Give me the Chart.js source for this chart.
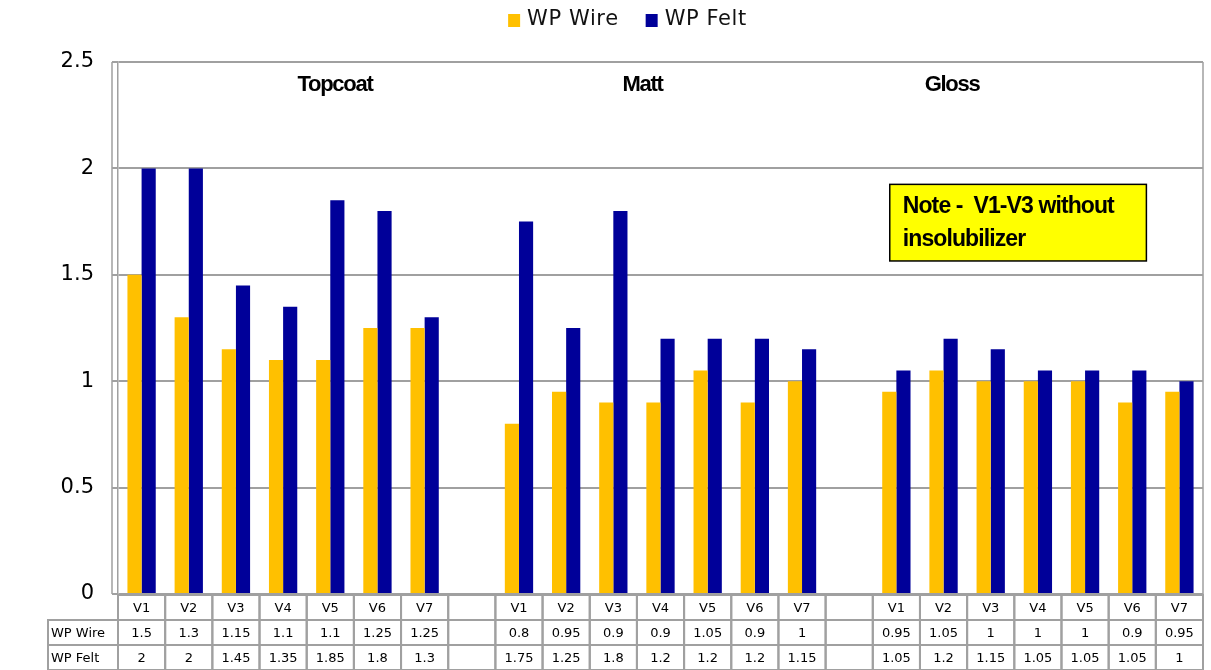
<!DOCTYPE html>
<html>
<head>
<meta charset="utf-8">
<script src="https://cdn.jsdelivr.net/npm/chart.js@4/dist/chart.umd.min.js"></script>
<style>
  html, body { margin: 0; padding: 0; background: #fff; }
  #wrap { width: 1211px; height: 670px; }
</style>
</head>
<body>
<div id="wrap"><canvas id="chart" width="1211" height="670"></canvas></div>
<script>
// Group names and the variants inside each group
const groups = ['Topcoat', 'Matt', 'Gloss'];
const variants = ['V1', 'V2', 'V3', 'V4', 'V5', 'V6', 'V7'];

// WP Wire values per group
const wireTopcoat = [1.5, 1.3, 1.15, 1.1, 1.1, 1.25, 1.25];
const wireMatt = [0.8, 0.95, 0.9, 0.9, 1.05, 0.9, 1];
const wireGloss = [0.95, 1.05, 1, 1, 1, 0.9, 0.95];

// WP Felt values per group
const feltTopcoat = [2, 2, 1.45, 1.35, 1.85, 1.8, 1.3];
const feltMatt = [1.75, 1.25, 1.8, 1.2, 1.2, 1.2, 1.15];
const feltGloss = [1.05, 1.2, 1.15, 1.05, 1.05, 1.05, 1];

const yTicks = [0, 0.5, 1, 1.5, 2, 2.5];
const noteLines = ['Note -  V1-V3 without', 'insolubilizer'];

// one empty column between groups
const labels = [...variants, '', ...variants, '', ...variants];
const wire = [...wireTopcoat, null, ...wireMatt, null, ...wireGloss];
const felt = [...feltTopcoat, null, ...feltMatt, null, ...feltGloss];

const GRID = '#a0a0a0';

// legend drawn by hand so spacing can match the original
const legendPlugin = {
  id: 'topLegend',
  afterDraw(chart) {
    const c = chart.ctx;
    const items = chart.data.datasets;
    c.save();
    c.font = '21px "DejaVu Sans", sans-serif';
    c.letterSpacing = '0.6px';
    c.textBaseline = 'middle';
    c.textAlign = 'left';
    const box = 12, gapBox = 7, gapItem = 27;
    const widths = items.map(d => box + gapBox + c.measureText(d.label).width);
    const total = widths.reduce((a, b) => a + b, 0) + gapItem * (items.length - 1);
    let cx = (chart.width - total) / 2 + 22;
    const cy = 20;
    items.forEach((d, i) => {
      c.fillStyle = d.backgroundColor;
      c.fillRect(cx, cy - box / 2, box, box + 1);
      c.fillStyle = '#111';
      c.fillText(d.label, cx + box + gapBox, cy);
      cx += widths[i] + gapItem;
    });
    c.restore();
  }
};

// draws group titles, the note box, frame lines and the data table
const extrasPlugin = {
  id: 'extras',
  afterDraw(chart) {
    const c = chart.ctx;
    const x = chart.scales.x;
    const y = chart.scales.y;
    const area = chart.chartArea;
    const step = x.getPixelForValue(1) - x.getPixelForValue(0);

    c.save();

    // frame: second left line and right border
    c.strokeStyle = GRID;
    c.lineWidth = 1.5;
    c.beginPath();
    c.moveTo(area.left - 6, area.top);
    c.lineTo(area.left - 6, area.bottom);
    c.moveTo(area.right, area.top);
    c.lineTo(area.right, area.bottom);
    c.stroke();

    // group titles
    c.fillStyle = '#000';
    c.font = 'bold 22px "Liberation Sans", Arial, sans-serif';
    c.letterSpacing = '-1.3px';
    c.textAlign = 'center';
    c.textBaseline = 'middle';
    const titlePos = [4.1, 10.62, 17.18];
    groups.forEach((g, i) => {
      c.fillText(g, x.getPixelForValue(titlePos[i]), y.getPixelForValue(2.39));
    });

    // note box
    const bx0 = x.getPixelForValue(15.86), bx1 = x.getPixelForValue(21.3);
    const by0 = y.getPixelForValue(1.925), by1 = y.getPixelForValue(1.565);
    c.fillStyle = '#ffff00';
    c.fillRect(bx0, by0, bx1 - bx0, by1 - by0);
    c.strokeStyle = '#000';
    c.lineWidth = 1.5;
    c.strokeRect(bx0, by0, bx1 - bx0, by1 - by0);
    c.fillStyle = '#000';
    c.font = 'bold 23px "Liberation Sans", Arial, sans-serif';
    c.letterSpacing = '-0.9px';
    c.textAlign = 'left';
    c.fillText(noteLines[0], bx0 + 13, by0 + 22);
    c.fillText(noteLines[1], bx0 + 13, by0 + 55);
    c.letterSpacing = '0px';

    // data table
    const rowTops = [area.bottom + 1, area.bottom + 26, area.bottom + 51];
    const rowH = [25, 25, 25];
    c.strokeStyle = GRID;
    c.lineWidth = 2;
    c.font = '13px "DejaVu Sans", sans-serif';
    c.textAlign = 'center';
    const rows = [labels, wire, felt];
    for (let i = 0; i < labels.length; i++) {
      const left = x.getPixelForValue(i) - step / 2;
      rows.forEach((r, k) => {
        c.strokeRect(left, rowTops[k], step, rowH[k]);
        const v = r[i];
        if (v !== null && v !== '') {
          c.fillText(String(v), left + step / 2, rowTops[k] + rowH[k] / 2 + 1);
        }
      });
    }
    // row headers
    c.textAlign = 'left';
    chart.data.datasets.forEach((d, k) => {
      c.strokeRect(48, rowTops[k + 1], area.left - 48, rowH[k + 1]);
      c.fillText(d.label, 51, rowTops[k + 1] + rowH[k + 1] / 2 + 1);
    });

    c.restore();
  }
};

const ctx = document.getElementById('chart').getContext('2d');
new Chart(ctx, {
  type: 'bar',
  data: {
    labels: labels,
    datasets: [
      { label: 'WP Wire', data: wire, backgroundColor: '#ffc000', borderWidth: 0 },
      { label: 'WP Felt', data: felt, backgroundColor: '#000099', borderWidth: 0 }
    ]
  },
  options: {
    responsive: false,
    animation: false,
    layout: { padding: { left: 0, right: 8, top: 62, bottom: 76 } },
    datasets: { bar: { categoryPercentage: 0.6, barPercentage: 1 } },
    plugins: {
      legend: { display: false },
      tooltip: { enabled: false }
    },
    scales: {
      x: {
        display: false,
        grid: { display: false }
      },
      y: {
        min: 0,
        max: 2.5,
        afterBuildTicks(scale) {
          scale.ticks = yTicks.map(v => ({ value: v }));
        },
        afterFit(scale) { scale.width = 118; },
        border: { display: true, color: GRID, width: 1.5 },
        grid: { color: GRID, lineWidth: 2, tickLength: 6 },
        ticks: {
          color: '#000',
          padding: 18,
          font: { family: '"DejaVu Sans", sans-serif', size: 21 },
          callback: v => String(v)
        }
      }
    }
  },
  plugins: [legendPlugin, extrasPlugin]
});
</script>
</body>
</html>
